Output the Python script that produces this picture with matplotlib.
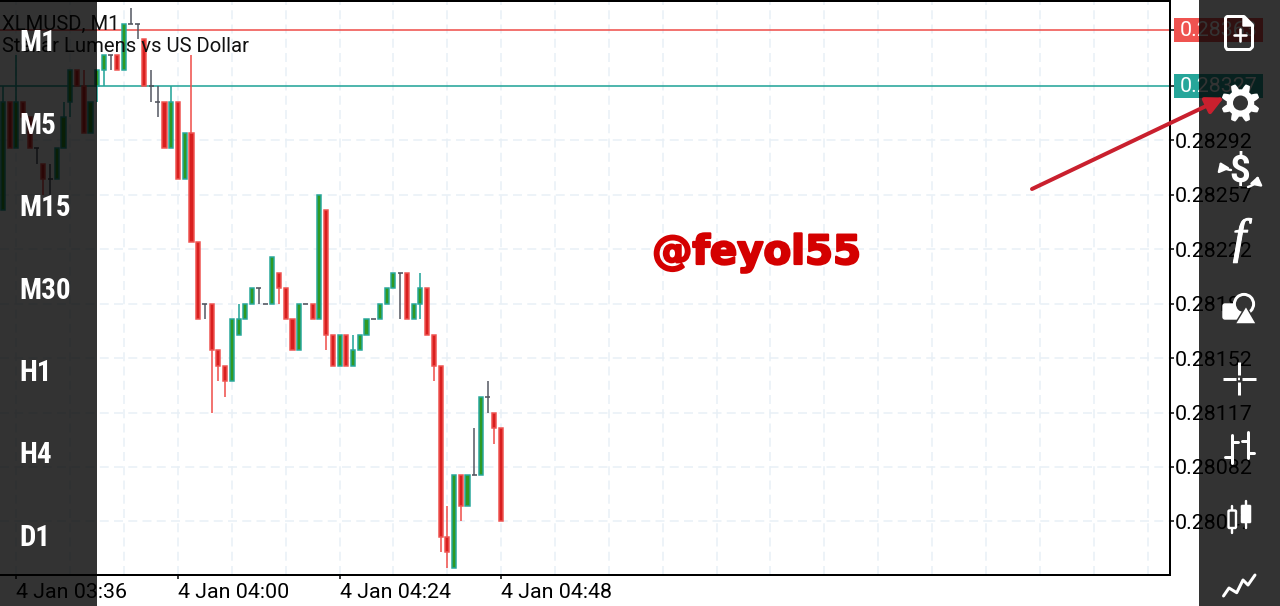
import numpy as np
import matplotlib
matplotlib.use("Agg")
import matplotlib.pyplot as plt
from matplotlib import font_manager as fm
from matplotlib.patches import Rectangle, Circle, Polygon, FancyBboxPatch, FancyArrowPatch
import matplotlib.patheffects as pe

# ---- data ----
minutes = list(range(-2, 73))
opens = [.28247,.28317,.28287,.28317,.28307,.28287,.28277,.28267,.28267,.28287,.28317,.28337,.28327,.28297,.28327,
         .28337,.28347,.28347,.28337,.28367,.28367,.28357,.28327,.28317,.28317,.28287,.28317,.28267,.28297,.28227,
         .28187,.28187,.28157,.28147,.28137,.28167,.28177,.28187,.28197,.28187,.28187,.28207,.28197,.28177,.28157,
         .28187,.28187,.28177,.28247,.28167,.28147,.28167,.28147,.28157,.28167,.28177,.28177,.28187,.28197,.28207,
         .28207,.28177,.28187,.28197,.28167,.28147,.28037,.28017,.28077,.28057,.28077,.28077,.28127,.28117,.28107]
closes = [.28317,.28287,.28317,.28307,.28287,.28287,.28267,.28267,.28287,.28307,.28337,.28327,.28297,.28317,.28337,
          .28347,.28347,.28337,.28367,.28367,.28367,.28327,.28327,.28317,.28287,.28317,.28267,.28297,.28227,.28177,
          .28187,.28157,.28147,.28137,.28177,.28177,.28187,.28197,.28197,.28187,.28217,.28197,.28177,.28157,.28187,
          .28187,.28177,.28257,.28167,.28147,.28167,.28147,.28157,.28167,.28177,.28177,.28187,.28197,.28207,.28207,
          .28177,.28187,.28197,.28167,.28147,.28037,.28027,.28077,.28057,.28077,.28077,.28127,.28127,.28107,.28047]
highs = [.28327,.28317,.28347,.28317,.28307,.28287,.28277,.28277,.28287,.28317,.28337,.28337,.28337,.28317,.28337,
         .28347,.28347,.28347,.28367,.28377,.28367,.28357,.28337,.28327,.28317,.28327,.28317,.28297,.28347,.28227,
         .28187,.28187,.28157,.28147,.28177,.28187,.28187,.28197,.28197,.28187,.28217,.28207,.28197,.28177,.28187,
         .28187,.28187,.28257,.28247,.28167,.28167,.28167,.28167,.28167,.28177,.28177,.28187,.28197,.28207,.28207,
         .28207,.28187,.28207,.28197,.28167,.28147,.28057,.28077,.28077,.28077,.28107,.28127,.28137,.28117,.28107]
lows = [.28247,.28287,.28287,.28307,.28287,.28277,.28257,.28257,.28267,.28287,.28307,.28327,.28297,.28297,.28317,
        .28327,.28337,.28337,.28337,.28367,.28357,.28327,.28317,.28307,.28287,.28287,.28267,.28267,.28227,.28177,
        .28177,.28117,.28137,.28127,.28137,.28167,.28177,.28187,.28187,.28187,.28187,.28187,.28177,.28157,.28157,
        .28187,.28177,.28177,.28157,.28147,.28147,.28147,.28147,.28157,.28167,.28177,.28177,.28187,.28197,.28177,
        .28177,.28177,.28177,.28167,.28137,.28027,.28017,.28017,.28047,.28057,.28077,.28077,.28117,.28097,.28047]
y_ticks = [.28047,.28082,.28117,.28152,.28187,.28222,.28257,.28292]
y_tick_labels = ["0.28047","0.28082","0.28117","0.28152","0.28187","0.28222","0.28257","0.28292"]
x_tick_minutes = [0, 24, 48, 72]
x_tick_labels = ["4 Jan 03:36","4 Jan 04:00","4 Jan 04:24","4 Jan 04:48"]
grid_minutes = list(range(-8, 172, 8))
ask_price, bid_price = .28363, .28327
ask_label, bid_label = "0.28363", "0.28327"
timeframes = ["M1","M5","M15","M30","H1","H4","D1"]

# ---- style ----
RED_E, RED_F = "#ef5350", "#d81f1f"
GRN_E, GRN_F = "#26a69a", "#2f9a22"
DOJI = "#50545e"
W, H = 1280, 606
TICK_FS = 15.4
plt.rcParams["font.family"] = ["Roboto", "DejaVu Sans"]
installed = {f.name for f in fm.fontManager.ttflist}
narrow = next((n for n in ("Roboto Condensed", "Liberation Sans Narrow") if n in installed), "Roboto")
fig = plt.figure(figsize=(W/100, H/100), dpi=100, facecolor="white")
ax = fig.add_axes([0, (H-575)/H, 1170/W, 574/H])
PX = 0.72  # pt per px
ax.set_xlim((0-16.4)/6.733, (1170-16.4)/6.733)
ax.set_ylim(.280125, .283817)
ax.yaxis.tick_right()
ax.set_xticks(x_tick_minutes, x_tick_labels)
ax.set_yticks(y_ticks + [bid_price, ask_price], y_tick_labels + ["", ""])
ax.tick_params(axis="y", length=3.5*PX, width=1.5*PX, pad=1, labelsize=TICK_FS, colors="black")
ax.tick_params(axis="x", length=4*PX, width=1.5*PX, pad=3, labelsize=TICK_FS, colors="black")
for lab in ax.get_xticklabels():
    lab.set_ha("left")
ax.spines["left"].set_visible(False)
for s in ("top","right","bottom"):
    ax.spines[s].set_linewidth(2*PX)
GRID = dict(color="#e8f0f6", lw=1.5*PX, ls=(0,(6,3.5)), zorder=1)
for p in y_ticks:
    ax.axhline(p, **GRID)
for m in grid_minutes:
    ax.axvline(m, **GRID)

# level lines + price boxes
bw = 89/1170
for price, col, lab in ((ask_price, RED_E, ask_label), (bid_price, GRN_E, bid_label)):
    ax.axhline(price, color=col, lw=1.6*PX, zorder=2)
    ax.add_patch(Rectangle((1174/1170, price-.000076), bw, .000152, transform=ax.get_yaxis_transform(),
                           facecolor=col, edgecolor="none", clip_on=False, zorder=5))
    ax.text(1180/1170, price, lab, transform=ax.get_yaxis_transform(), color="white", fontsize=TICK_FS,
            va="center", ha="left", zorder=6, clip_on=False)

# candles
body_w = 4.1/6.733
for m, o, c, hi, lo in zip(minutes, opens, closes, highs, lows):
    if abs(o-c) < 1e-7:
        ax.vlines(m, lo, hi, color=DOJI, lw=1.5*PX, zorder=3)
        ax.hlines(o, m-.38, m+.38, color=DOJI, lw=1.6*PX, zorder=3)
        continue
    up = c > o
    e, f = (GRN_E, GRN_F) if up else (RED_E, RED_F)
    ax.vlines(m, lo, hi, color=e, lw=1.6*PX, zorder=3)
    ax.bar(m, abs(c-o), bottom=min(o, c), width=body_w, facecolor=f, edgecolor=e, lw=1.5*PX, zorder=4)

# header
fig.text(2/W, 1-24/H, "XLMUSD, M1", fontsize=14.6, color="#111111", va="center", ha="left", zorder=9)
fig.text(2/W, 1-47/H, "Stellar Lumens vs US Dollar", fontsize=14.6, color="#111111", va="center", ha="left", zorder=9)

# overlay in pixel coordinates
ov = fig.add_axes([0, 0, 1, 1], zorder=10)
ov.set_xlim(0, W); ov.set_ylim(H, 0); ov.axis("off"); ov.patch.set_alpha(0)
for x0, x1 in ((0, 96.5), (1199, W)):
    ov.add_patch(Rectangle((x0, 0), x1-x0, H, facecolor="black", alpha=.8, edgecolor="none", zorder=1))

# timeframe buttons
for t, y in zip(timeframes, (43, 126, 208, 291, 373, 455, 538)):
    ov.text(19.5, y, t, color="white", fontsize=21 if narrow != "Roboto" else 19, fontweight="bold", va="center", ha="left",
            family=narrow, zorder=3)

WH = "white"; DK = "#333333"
def ln(xs, ys, lw=3, z=3, cap="round"):
    ov.plot(xs, ys, color=WH, lw=lw*PX, solid_capstyle=cap, solid_joinstyle="round", zorder=z)

# new-file icon
ov.add_patch(Polygon([(1227,16.5),(1244,16.5),(1252.5,25),(1252.5,47),(1250,49.5),(1227,49.5),(1225.5,47),(1225.5,18)],
                     closed=True, fill=False, edgecolor=WH, lw=3*PX, joinstyle="round", zorder=3))
ov.add_patch(Polygon([(1243,16),(1253,26),(1243,26)], closed=True, facecolor=WH, edgecolor=WH, zorder=3))
ln([1234,1246],[35,35],2.6); ln([1240,1240],[29,41],2.6)

# gear icon
th = np.linspace(0, 2*np.pi, 721)
r = 16.5 + 2.8*np.clip(1.6*np.cos(8*(th+np.pi/8)), -1, 1)
ov.add_patch(Polygon(np.c_[1240.5+r*np.cos(th), 103+r*np.sin(th)], closed=True, facecolor=WH, edgecolor="none", zorder=3))
ov.add_patch(Circle((1240.5, 103), 7.5, facecolor=DK, edgecolor="none", zorder=3.1))

# trade icon
ov.text(1239.5, 172, "$", color=WH, fontsize=26, fontweight="bold", ha="center", va="center", zorder=3)
ov.add_patch(FancyArrowPatch((1231,170),(1220,162), connectionstyle="arc3,rad=-.3", arrowstyle="-|>,head_length=3,head_width=2.2",
                             color=WH, lw=2.4*PX, mutation_scale=1.6, shrinkA=0, shrinkB=0, zorder=3))
ov.add_patch(FancyArrowPatch((1248,187),(1258,176), connectionstyle="arc3,rad=.3", arrowstyle="-|>,head_length=3,head_width=2.2",
                             color=WH, lw=2.4*PX, mutation_scale=1.6, shrinkA=0, shrinkB=0, zorder=3))

# function icon
ov.text(1239.5, 240, "f", color=WH, fontsize=35, style="italic", ha="center", va="center",
        family=["Liberation Serif", "DejaVu Serif"], zorder=3,
        path_effects=[pe.withStroke(linewidth=.7, foreground=WH)])

# objects icon
ov.add_patch(FancyBboxPatch((1223,304), 18, 15, boxstyle="round,pad=0,rounding_size=2", facecolor=WH, edgecolor=WH, zorder=3))
ov.add_patch(Circle((1244,304), 9.6, facecolor=DK, edgecolor=WH, lw=3*PX, zorder=3.1))
ov.add_patch(Polygon([(1246,306),(1256.5,324),(1235,324)], closed=True, facecolor=WH, edgecolor=DK, lw=1.5*PX, zorder=3.2))

# crosshair icon
ln([1222.7,1236],[378.7,378.7],3,cap="butt"); ln([1242,1256],[378.7,378.7],3,cap="butt")
ln([1239,1239],[361.7,375],3,cap="butt"); ln([1239,1239],[382,395],3,cap="butt")
ln([1238,1240],[378.7,378.7],2.5,cap="butt")

# bar chart icon
ln([1231.7,1231.7],[435,463]); ln([1231.7,1237.5],[442,442]); ln([1224.5,1231.7],[456.7,456.7])
ln([1247.7,1247.7],[432,458]); ln([1241.7,1247.7],[440.7,440.7]); ln([1247.7,1254],[452.7,452.7])

# candle chart icon
ln([1232.3,1232.3],[506,532.5],2.4)
ov.add_patch(FancyBboxPatch((1228.5,510.5),7.5,17.5, boxstyle="round,pad=0,rounding_size=1", facecolor=DK, edgecolor=WH, lw=2.4*PX, zorder=3.1))
ln([1246,1246],[500.5,528],2.4)
ov.add_patch(FancyBboxPatch((1241,505),10,18, boxstyle="round,pad=0,rounding_size=1", facecolor=WH, edgecolor=WH, lw=.5*PX, zorder=3.1))

# line chart icon
ln([1223.5,1229,1236.7,1243,1248,1255],[596,588,592.7,580,585,575],3)

# annotation arrow
ov.add_patch(FancyArrowPatch((1032,189),(1224,97.5), arrowstyle="-|>,head_length=8,head_width=4", color="#c9202e",
                             lw=4*PX, shrinkA=0, shrinkB=0, mutation_scale=1.3, zorder=4))

# watermark
ov.text(756.5, 253, "@feyol55", color="#d40000", fontsize=29, fontweight="bold", ha="center", va="center",
        family="DejaVu Sans", zorder=4, path_effects=[pe.withStroke(linewidth=1.6, foreground="#d40000")])

fig.savefig("out.png", dpi=100, facecolor="white")
